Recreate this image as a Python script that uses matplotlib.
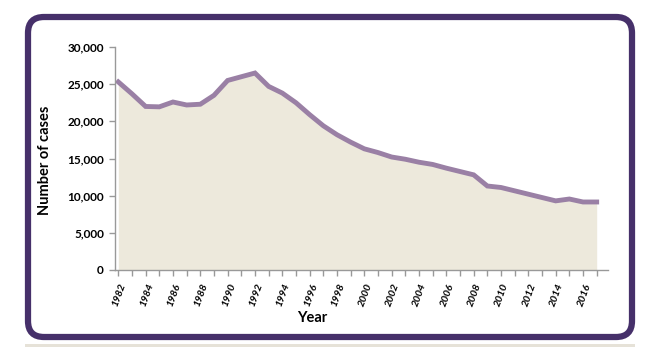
import matplotlib
matplotlib.use("Agg")
import matplotlib.pyplot as plt
import matplotlib.transforms as mtransforms
from matplotlib.patches import FancyBboxPatch, Rectangle
from matplotlib.ticker import FuncFormatter, MultipleLocator

years = list(range(1982, 2018))
cases = [25300, 23700, 22000, 21950, 22600, 22200, 22300, 23500, 25500, 26000,
         26500, 24700, 23800, 22500, 20900, 19400, 18200, 17200, 16300, 15800,
         15200, 14900, 14500, 14200, 13700, 13250, 12800, 11300, 11100, 10650,
         10200, 9750, 9300, 9550, 9150, 9150]
label_years = list(range(1982, 2017, 2))
y_ticks = [0, 5000, 10000, 15000, 20000, 25000, 30000]

W, H = 652, 350
fig = plt.figure(figsize=(W / 100, H / 100), dpi=100)
fig.patch.set_facecolor("white")

# background frame
bg = fig.add_axes([0, 0, 1, 1])
bg.set_xlim(0, W)
bg.set_ylim(H, 0)
bg.axis("off")
frame = FancyBboxPatch((28, 17), 604, 320, boxstyle="round,pad=0,rounding_size=16",
                       linewidth=4.5, edgecolor="#46306a", facecolor="white")
bg.add_patch(frame)
bg.add_patch(Rectangle((25, 344), 610, 3, facecolor="#e6e2d8", edgecolor="none"))

FONT = "Lato"
ax = fig.add_axes([115 / W, 1 - 270 / H, (608.3 - 115) / W, (270 - 47) / H])
ax.set_facecolor("none")
fill_c = "#ede9dc"
line_c = "#9a80a5"
ax.fill_between(years, cases, 0, color=fill_c, lw=0, zorder=1)
ax.plot(years, cases, color=line_c, lw=3.5, solid_joinstyle="miter", zorder=2)

x0 = 1982 - 3.3 / 13.67
ax.set_xlim(x0, 2017.85)
ax.set_ylim(0, 30000)

for s in ["top", "right"]:
    ax.spines[s].set_visible(False)
for s in ["left", "bottom"]:
    ax.spines[s].set_color("#999999")
    ax.spines[s].set_linewidth(1.0)

ax.set_yticks(y_ticks)
ax.yaxis.set_major_formatter(FuncFormatter(lambda v, p: f"{int(v):,}"))
ax.tick_params(axis="y", direction="out", length=4, width=1, color="#999999",
               labelsize=8.5, pad=4)
for lbl in ax.get_yticklabels():
    lbl.set_fontfamily(FONT)
    lbl.set_fontweight("bold")

ax.set_xticks(label_years)
ax.set_xticklabels([str(y) for y in label_years])
ax.xaxis.set_minor_locator(MultipleLocator(1))
ax.tick_params(axis="x", which="both", direction="out", length=4, width=1,
               color="#999999", labelsize=7.5, pad=6)
offset = mtransforms.ScaledTranslation(5 / 100, 0, fig.dpi_scale_trans)
for lbl in ax.get_xticklabels():
    lbl.set_rotation(70)
    lbl.set_ha("right")
    lbl.set_va("center")
    lbl.set_rotation_mode("anchor")
    lbl.set_fontfamily(FONT)
    lbl.set_fontweight("bold")
    lbl.set_fontstyle("italic")
    lbl.set_transform(lbl.get_transform() + offset)

fig.text(312 / W, 1 - 318 / H, "Year", ha="center", va="center",
         fontsize=10.5, fontweight="bold", family=FONT)
fig.text(45 / W, 1 - 160 / H, "Number of cases", ha="center", va="center",
         rotation=90, fontsize=10.5, fontweight="bold", family=FONT)

fig.savefig("out.png", dpi=100, facecolor="white")
